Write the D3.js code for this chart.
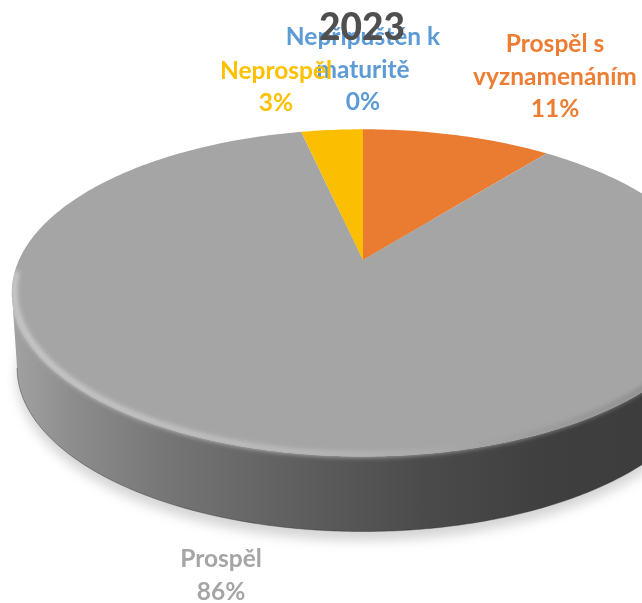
<!DOCTYPE html>
<html><head><meta charset="utf-8">
<script src="https://cdn.jsdelivr.net/npm/d3@7"></script>
<style>html,body{margin:0;padding:0;background:#fff;overflow:hidden}svg{display:block}</style>
</head><body>
<svg id="c" width="642" height="603"></svg>
<script>
const titleText = "2023";
const categories = ["Prospěl s vyznamenáním", "Prospěl", "Neprospěl", "Nepřipuštěn k maturitě"];
const values = [10.6, 85.95, 3.45, 0];
const labelLines = [["Prospěl s", "vyznamenáním"], ["Prospěl"], ["Neprospěl"], ["Nepřipuštěn k", "maturitě"]];
const colors = ["#ED7D31", "#A5A5A5", "#FFC000", "#5B9BD5"];
const sliceColors = ["#E97C30", "#A5A5A5", "#FBBE00", "#5B9BD5"];

const svg = d3.select("#c");
const cx = 363, cy = 260, a = 344, b = 157, k = -0.201, depth = 75;
const proj = th => {
  const u = Math.sin(th), v = -Math.cos(th), w = 1 + k * v;
  return [cx + a * u / w, cy + b * v / w];
};
const pie = d3.pie().sort(null).value(d => d)(values);
const defs = svg.append("defs");
const grad = (id, stops) => {
  const g = defs.append("linearGradient").attr("id", id).attr("gradientUnits", "userSpaceOnUse")
    .attr("x1", 12).attr("x2", 642).attr("y1", 0).attr("y2", 0);
  stops.forEach(s => g.append("stop").attr("offset", s[0]).attr("stop-color", s[1]));
};
grad("side", [[0, "#a2a2a2"], [0.1, "#8c8c8c"], [0.25, "#757575"], [0.45, "#5f5f5f"], [0.65, "#4b4b4b"], [0.85, "#3f3f3f"], [1, "#3d3d3d"]]);
grad("rim", [[0, "#d2d2d2"], [0.3, "#c6c6c6"], [0.55, "#b8b8b8"], [0.72, "#a5a5a5"], [1, "#8a8a8a"]]);
const blur = (id, s) => defs.append("filter").attr("id", id)
  .attr("x", "-10%").attr("y", "-10%").attr("width", "120%").attr("height", "120%")
  .append("feGaussianBlur").attr("stdDeviation", s);
blur("sh", 6); blur("bev", 2.4); blur("txt", 0.5);

const frontStart = Math.acos(k), frontEnd = 2 * Math.PI - frontStart;
const front = d3.range(frontEnd, frontStart - 0.001, -(frontEnd - frontStart) / 240).map(proj);
const bevelRim = d3.range(frontEnd + 0.12, frontStart - 0.3, -0.005).map(proj);
const bottomX = x => cx + (x - cx) * 0.985;
const allRim = d3.range(0, 2 * Math.PI + 0.01, Math.PI / 180).map(proj);

// soft shadow under the disc
svg.append("path")
  .attr("d", d3.line().curve(d3.curveLinearClosed)(allRim.map(p => [bottomX(p[0]), p[1] + depth + 9])))
  .attr("fill", "#000").attr("fill-opacity", 0.17).attr("filter", "url(#sh)");

// side wall
svg.append("path")
  .attr("d", d3.area().x0(p => p[0]).y0(p => p[1]).x1(p => bottomX(p[0])).y1(p => p[1] + depth)(front))
  .attr("fill", "url(#side)");
svg.append("path")
  .attr("d", d3.line()(front.map(p => [bottomX(p[0]), p[1] + depth])))
  .attr("fill", "none").attr("stroke", "#333").attr("stroke-opacity", 0.45).attr("stroke-width", 1);

// slices
const slicePath = d => {
  const n = Math.max(2, Math.ceil((d.endAngle - d.startAngle) * 60));
  const pts = d3.range(n + 1).map(i => proj(d.startAngle + (d.endAngle - d.startAngle) * i / n));
  return d3.line()([[cx, cy], ...pts]) + "Z";
};
svg.append("g").selectAll("path").data(pie).join("path")
  .attr("d", slicePath)
  .attr("fill", (d, i) => sliceColors[i]);

// bevel highlight along the front rim
const clip = defs.append("clipPath").attr("id", "disc");
clip.append("path").attr("d", d3.line().curve(d3.curveLinearClosed)(allRim));
clip.append("path").attr("d", d3.area().x0(p => p[0]).y0(p => p[1]).x1(p => bottomX(p[0])).y1(p => p[1] + depth)(front));
svg.append("g").attr("clip-path", "url(#disc)").append("path")
  .attr("d", d3.line()(bevelRim.map(p => [cx + (p[0] - cx) * 0.993, p[1] - 2])))
  .attr("fill", "none").attr("stroke", "url(#rim)").attr("stroke-width", 5).attr("filter", "url(#bev)");

// labels
const fontFam = "Lato, Carlito, 'Open Sans', sans-serif";
const fmt = d3.format(".0f");
const labelPos = [[555, 52], [221, 567], [276, 78.5], [363, 45]];
const lineH = 32.5;
const labels = svg.append("g").attr("font-family", fontFam).attr("font-weight", 700)
  .attr("font-size", 24.5).attr("text-anchor", "middle").attr("filter", "url(#txt)");
[3, 2, 0, 1].forEach(i => {
  const t = labels.append("text").attr("fill", colors[i]);
  [...labelLines[i], fmt(values[i]) + "%"].forEach((s, j) =>
    t.append("tspan").attr("x", labelPos[i][0]).attr("y", labelPos[i][1] + j * lineH).text(s));
});
svg.append("text").attr("x", 362).attr("y", 40).attr("text-anchor", "middle")
  .attr("font-family", fontFam).attr("font-weight", 900).attr("font-size", 37)
  .attr("fill", "#505050").attr("filter", "url(#txt)").text(titleText);
</script>
</body></html>
